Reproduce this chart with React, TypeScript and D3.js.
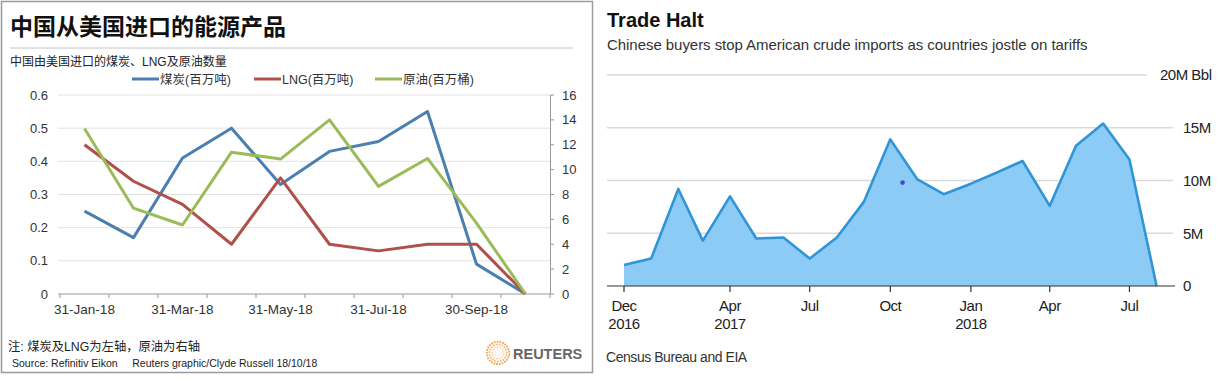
import React from 'react';
import * as d3 from 'd3';

// ---------- Left chart data (Reuters) ----------
const leftCategories = ['31-Jan-18', '28-Feb-18', '31-Mar-18', '30-Apr-18', '31-May-18', '30-Jun-18', '31-Jul-18', '31-Aug-18', '30-Sep-18', '31-Oct-18'];
const coalValues = [0.25, 0.17, 0.41, 0.5, 0.33, 0.43, 0.46, 0.55, 0.09, 0];
const lngValues = [0.45, 0.34, 0.27, 0.15, 0.35, 0.15, 0.13, 0.15, 0.15, 0];
const crudeValues = [13.3, 6.9, 5.55, 11.4, 10.85, 14.0, 8.65, 10.9, 5.7, 0];
const leftAxisTicks = [0, 0.1, 0.2, 0.3, 0.4, 0.5, 0.6];
const rightAxisTicks = [0, 2, 4, 6, 8, 10, 12, 14, 16];
const leftSeriesNames = ['煤炭(百万吨)', 'LNG(百万吨)', '原油(百万桶)'];

// ---------- Right chart data (Bloomberg) ----------
const tradeMonths = ['2016-12', '2017-01', '2017-02', '2017-03', '2017-04', '2017-05', '2017-06', '2017-07', '2017-08', '2017-09', '2017-10', '2017-11', '2017-12', '2018-01', '2018-02', '2018-03', '2018-04', '2018-05', '2018-06', '2018-07', '2018-08'];
const tradeValues = [2.0, 2.6, 9.2, 4.3, 8.5, 4.5, 4.6, 2.6, 4.6, 8.0, 13.9, 10.1, 8.7, 9.7, 10.8, 11.85, 7.6, 13.3, 15.4, 12.0, 0];
const tradeYTicks = [0, 5, 10, 15, 20];
const tradeYLabels = ['0', '5M', '10M', '15M', '20M Bbl'];
const tradeXTicks = ['2016-12', '2017-04', '2017-07', '2017-10', '2018-01', '2018-04', '2018-07'];
const tradeXMonthLabels = ['Dec', 'Apr', 'Jul', 'Oct', 'Jan', 'Apr', 'Jul'];
const tradeXYearLabels = ['2016', '2017', '', '', '2018', '', ''];
const strayDotDate = '2017-10-15';
const strayDotValue = 9.8;

const parseMonth = d3.utcParse('%Y-%m');
const parseDay = d3.utcParse('%Y-%m-%d');

const LEFT_FONT = '"Liberation Sans", Arial, "Noto Sans CJK SC", sans-serif';
const RIGHT_FONT = '"Liberation Sans", Arial, Helvetica, sans-serif';

function LeftChart() {
  const x = d3.scaleBand<string>().domain(leftCategories).range([60, 550]).paddingInner(0).paddingOuter(0);
  const yL = d3.scaleLinear().domain([0, 0.6]).range([294, 95]);
  const yR = d3.scaleLinear().domain([0, 16]).range([294, 95]);
  const cx = (c: string) => (x(c) as number) + x.bandwidth() / 2;

  const lineL = d3.line<number>().x((_, i) => cx(leftCategories[i])).y((v) => yL(v));
  const lineR = d3.line<number>().x((_, i) => cx(leftCategories[i])).y((v) => yR(v));

  const colors = ['#4a7fb0', '#b0504a', '#9bbb59'];
  const boundaries = leftCategories.map((c) => x(c) as number).concat([x.range()[1]]);

  const legendX = [132, 254, 375];

  // Reuters logo dots
  const logoDots: { x: number; y: number; r: number; c: string }[] = [];
  const rings = [
    { r: 3, n: 7, s: 0.8 },
    { r: 5.8, n: 13, s: 0.9 },
    { r: 8.6, n: 19, s: 1.0 },
    { r: 11.2, n: 25, s: 1.05 },
  ];
  const colorScale = d3.scaleLinear<string>().domain([0, 3]).range(['#fde2bd', '#f3a253']);
  rings.forEach((ring, ri) => {
    d3.range(ring.n).forEach((k) => {
      const a = (k / ring.n) * Math.PI * 2 + ri * 0.3;
      logoDots.push({ x: 498 + ring.r * Math.cos(a), y: 353 + ring.r * Math.sin(a), r: ring.s, c: colorScale(ri) });
    });
  });

  return (
    <g fontFamily={LEFT_FONT}>
      <rect x={1.5} y={1.5} width={591} height={371} fill="#fff" stroke="#9a9a9a" strokeWidth={1.5} />
      <text x={10} y={35} fontSize={23} fontWeight={700} fill="#111" fontFamily='"Noto Sans CJK SC", sans-serif'>
        中国从美国进口的能源产品
      </text>
      <line x1={10} x2={573} y1={48} y2={48} stroke="#c4c4c4" strokeWidth={1} />
      <text x={10} y={65.5} fontSize={12} fill="#222">
        中国由美国进口的煤炭、LNG及原油数量
      </text>

      {/* legend */}
      {leftSeriesNames.map((n, i) => (
        <g key={n}>
          <line x1={legendX[i]} x2={legendX[i] + 27} y1={79} y2={79} stroke={colors[i]} strokeWidth={3} />
          <text x={legendX[i] + 28} y={83.5} fontSize={12.5} fill="#333">
            {n}
          </text>
        </g>
      ))}

      {/* gridlines + left axis labels */}
      {leftAxisTicks.map((t) => (
        <g key={'l' + t}>
          {t > 0 && <line x1={58} x2={551} y1={yL(t)} y2={yL(t)} stroke="#e2e2e2" strokeWidth={1} />}
          <text x={48} y={yL(t)} dy="0.35em" textAnchor="end" fontSize={13} fill="#333">
            {d3.format('.1~f')(t)}
          </text>
        </g>
      ))}

      {/* right axis */}
      <line x1={550.5} x2={550.5} y1={95} y2={294} stroke="#999" strokeWidth={1} />
      {rightAxisTicks.map((t) => (
        <g key={'r' + t}>
          <line x1={550.5} x2={554} y1={yR(t)} y2={yR(t)} stroke="#999" strokeWidth={1} />
          <text x={562} y={yR(t)} dy="0.35em" fontSize={13} fill="#333">
            {t}
          </text>
        </g>
      ))}

      {/* x axis */}
      <line x1={58} x2={551} y1={294} y2={294} stroke="#999" strokeWidth={1} />
      {boundaries.map((b, i) => (
        <line key={'b' + i} x1={b} x2={b} y1={294} y2={298} stroke="#999" strokeWidth={1} />
      ))}
      {leftCategories.map((c, i) =>
        i % 2 === 0 ? (
          <text key={c} x={cx(c)} y={314} textAnchor="middle" fontSize={13.5} fill="#333">
            {c}
          </text>
        ) : null
      )}

      {/* series */}
      <path d={lineL(coalValues) || ''} fill="none" stroke={colors[0]} strokeWidth={3} strokeLinejoin="round" />
      <path d={lineL(lngValues) || ''} fill="none" stroke={colors[1]} strokeWidth={3} strokeLinejoin="round" />
      <path d={lineR(crudeValues) || ''} fill="none" stroke={colors[2]} strokeWidth={3} strokeLinejoin="round" />

      {/* footer */}
      <text x={8} y={351} fontSize={12.3} fill="#222">
        注: 煤炭及LNG为左轴，原油为右轴
      </text>
      <text x={12} y={366.5} fontSize={10.5} fill="#222">
        Source: Refinitiv Eikon{'\u00a0\u00a0\u00a0\u00a0\u00a0'}Reuters graphic/Clyde Russell 18/10/18
      </text>
      {logoDots.map((d, i) => (
        <circle key={'ld' + i} cx={d.x} cy={d.y} r={d.r} fill={d.c} />
      ))}
      <text x={513} y={358.5} fontSize={14.5} fontWeight={700} fill="#666" fontFamily={RIGHT_FONT}>
        REUTERS
      </text>
    </g>
  );
}

function RightChart() {
  const dates = tradeMonths.map((m) => parseMonth(m) as Date);
  const x = d3.scaleUtc().domain([dates[0], dates[dates.length - 1]]).range([624, 1156.6]);
  const y = d3.scaleLinear().domain([0, 20]).range([286, 75]);

  const area = d3
    .area<number>()
    .x((_, i) => x(dates[i]))
    .y0(y(0))
    .y1((v) => y(v));
  const line = d3
    .line<number>()
    .x((_, i) => x(dates[i]))
    .y((v) => y(v));

  const dot = parseDay(strayDotDate) as Date;

  return (
    <g fontFamily={RIGHT_FONT}>
      <text x={607} y={27} fontSize={20} fontWeight={700} fill="#111">
        Trade Halt
      </text>
      <text x={607} y={50} fontSize={15} fill="#333" letterSpacing={-0.05}>
        Chinese buyers stop American crude imports as countries jostle on tariffs
      </text>

      {tradeYTicks.map((t) =>
        t > 0 ? (
          <line key={'g' + t} x1={607} x2={t === 20 ? 1147 : 1173} y1={y(t)} y2={y(t)} stroke="#dadada" strokeWidth={1.3} />
        ) : null
      )}
      {tradeYTicks.map((t, i) => (
        <text key={'yl' + t} x={t === 20 ? 1160 : 1183} y={y(t)} dy="0.36em" fontSize={15} fill="#222" letterSpacing={-0.5}>
          {tradeYLabels[i]}
        </text>
      ))}

      <path d={area(tradeValues) || ''} fill="#8ccbf6" />
      <path d={line(tradeValues) || ''} fill="none" stroke="#2f95d6" strokeWidth={2.6} strokeLinejoin="round" />

      <line x1={607} x2={1175} y1={y(0)} y2={y(0)} stroke="#333" strokeWidth={1.2} />
      {tradeXTicks.map((m, i) => {
        const px = x(parseMonth(m) as Date);
        return (
          <g key={'xt' + i}>
            <line x1={px} x2={px} y1={y(0)} y2={y(0) + 6} stroke="#333" strokeWidth={1.2} />
            <text x={px} y={311} textAnchor="middle" fontSize={15} fill="#222" letterSpacing={-0.5}>
              {tradeXMonthLabels[i]}
            </text>
            {tradeXYearLabels[i] && (
              <text x={px} y={329} textAnchor="middle" fontSize={15} fill="#222" letterSpacing={-0.5}>
                {tradeXYearLabels[i]}
              </text>
            )}
          </g>
        );
      })}

      <circle cx={x(dot)} cy={y(strayDotValue)} r={2.3} fill="#3a4fc2" />

      <text x={606} y={362} fontSize={14} fill="#333" letterSpacing={-0.45}>
        Census Bureau and EIA
      </text>
    </g>
  );
}

export default function App() {
  return (
    <svg
      width={1220}
      height={378}
      viewBox="0 0 1220 378"
      style={{ position: 'absolute', left: 0, top: 0, background: '#fff' }}
    >
      <rect x={0} y={0} width={1220} height={378} fill="#fff" />
      <LeftChart />
      <RightChart />
    </svg>
  );
}
